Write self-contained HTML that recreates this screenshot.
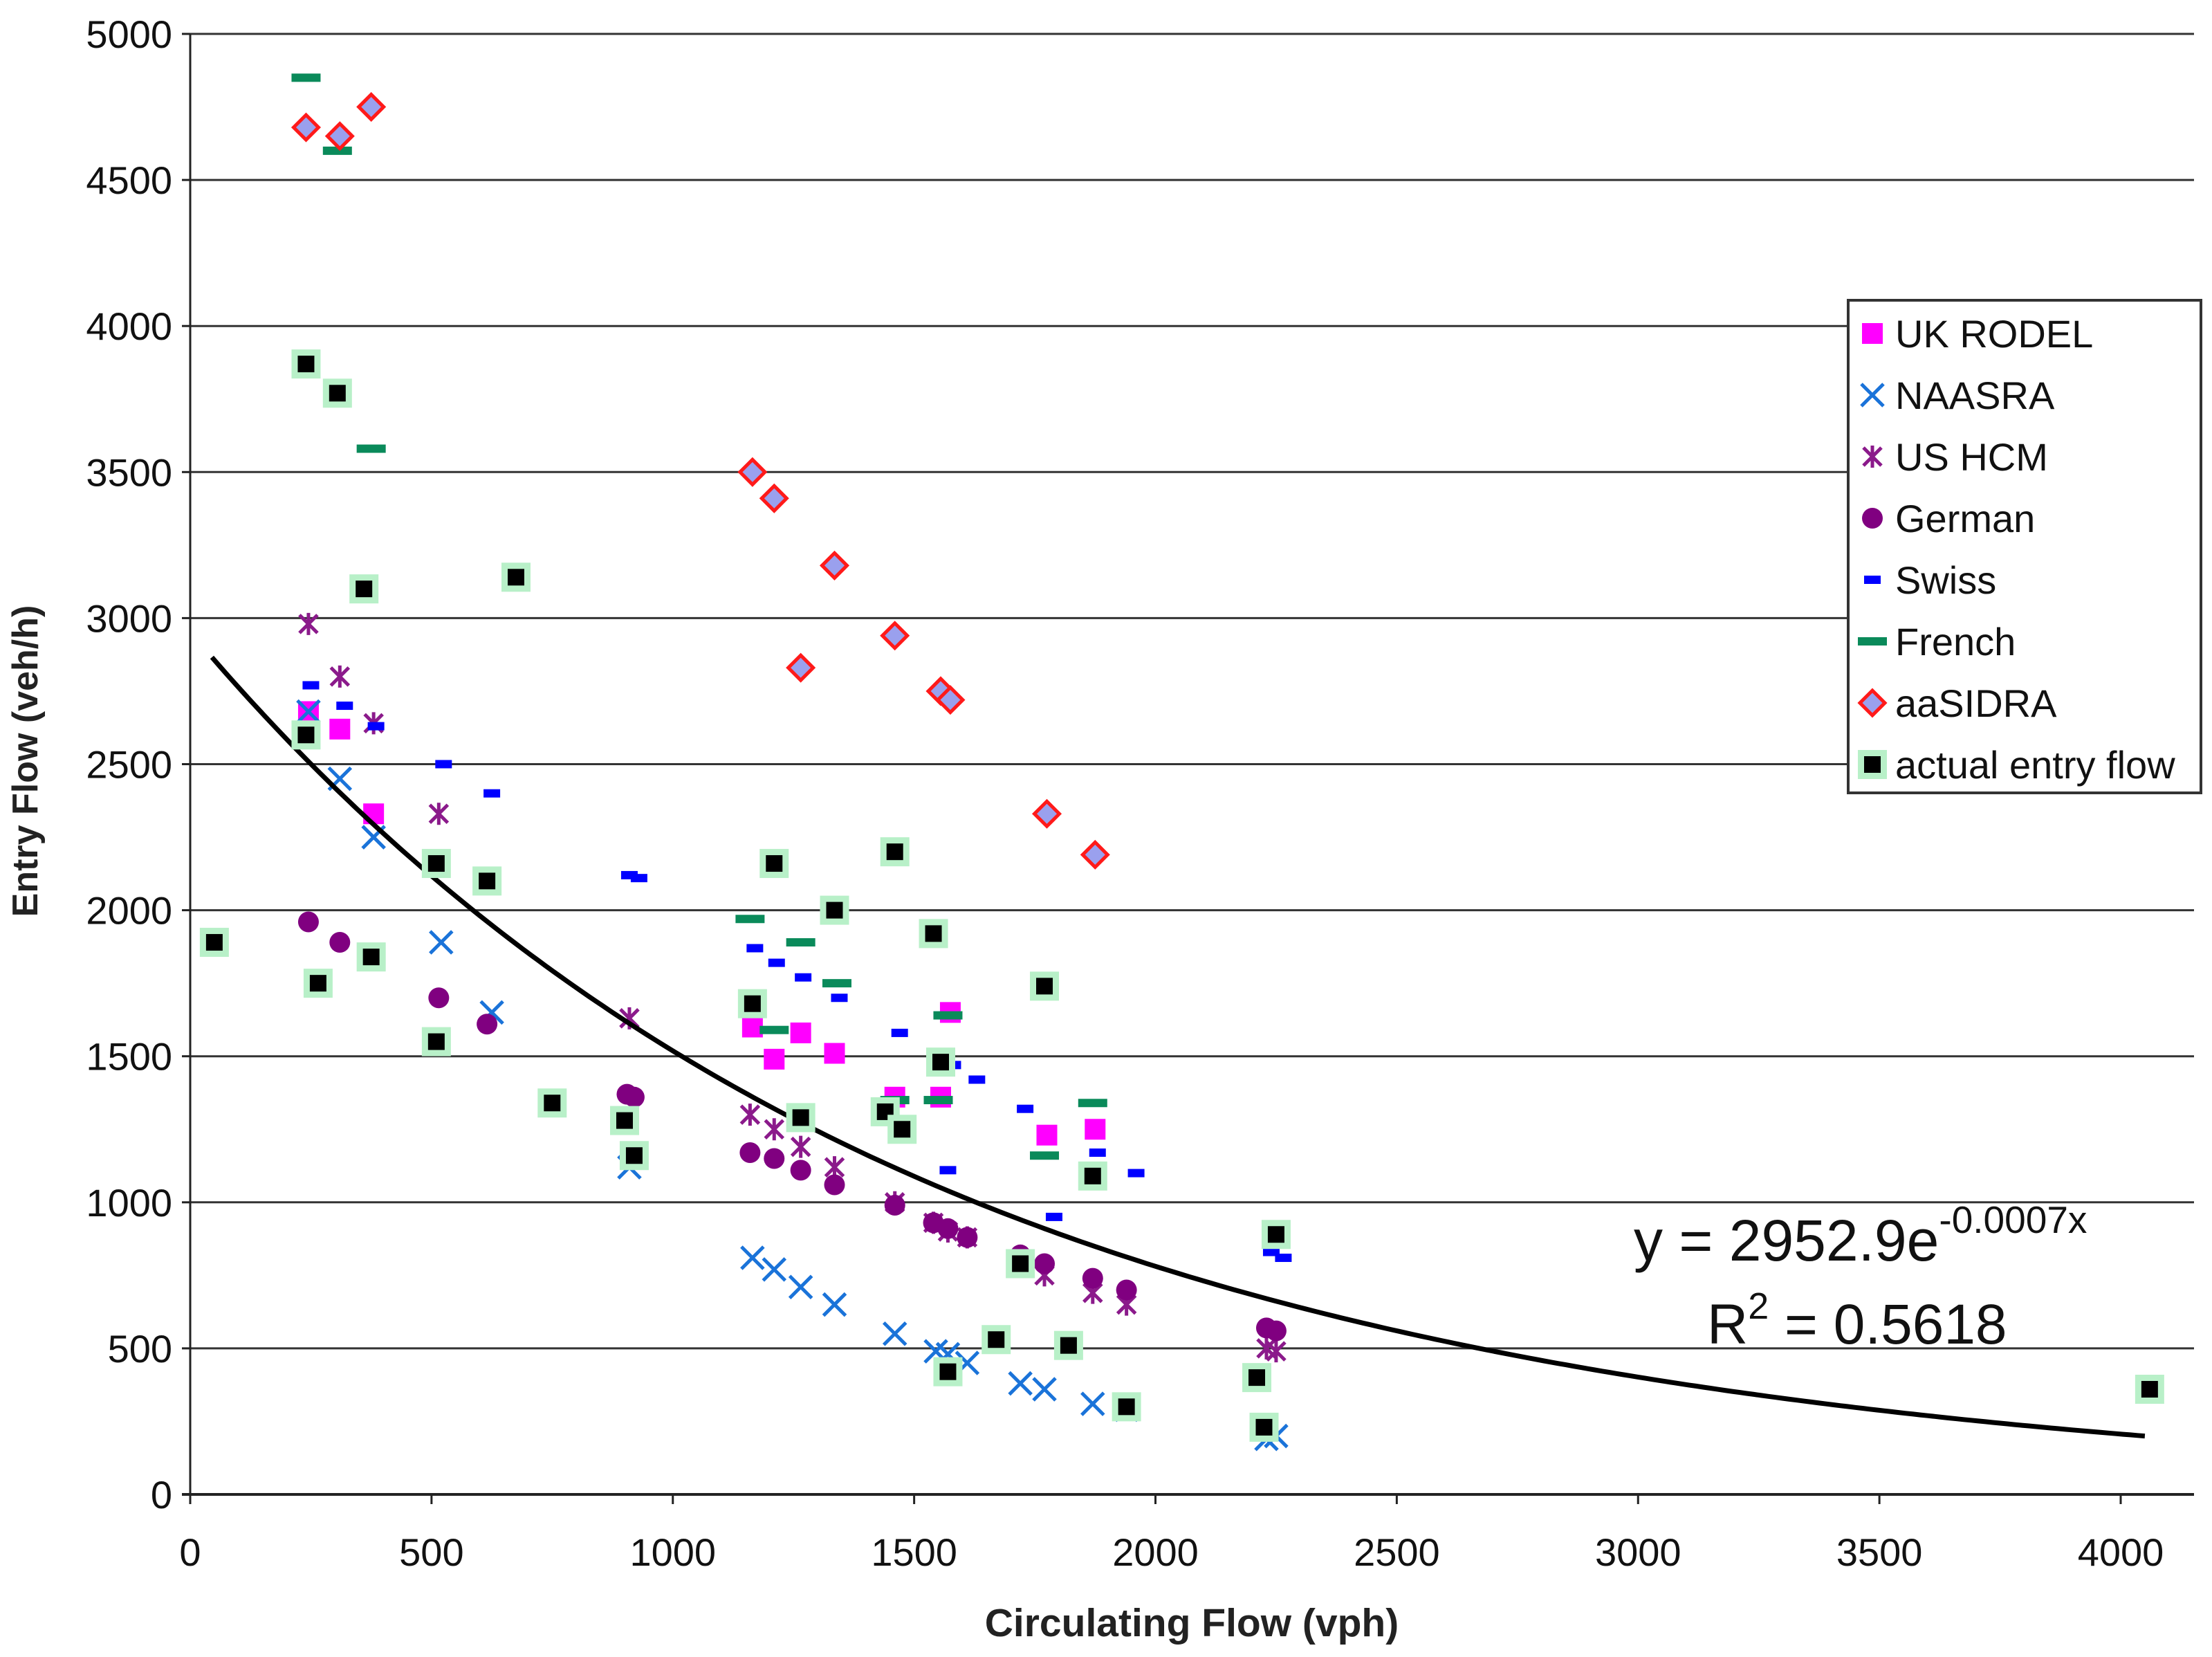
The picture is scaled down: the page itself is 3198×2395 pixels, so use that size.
<!DOCTYPE html>
<html><head><meta charset="utf-8"><style>
html,body{margin:0;padding:0;background:#fff}
svg{display:block;font-family:"Liberation Sans",Arial,sans-serif}
</style></head><body>
<svg id="chart" width="3198" height="2395" viewBox="0 0 3198 2395" xmlns="http://www.w3.org/2000/svg">
<g id="grid"></g>
<g id="axes"></g>
<g id="marks"></g>
<text x="1723" y="2365" font-size="57" font-weight="bold" text-anchor="middle" fill="#222">Circulating Flow (vph)</text>
<text transform="translate(54,1100) rotate(-90)" font-size="52" font-weight="bold" text-anchor="middle" fill="#222">Entry Flow (veh/h)</text>
<text x="2362" y="1822" font-size="84" fill="#111">y = 2952.9e<tspan dy="-40" font-size="55">-0.0007x</tspan></text>
<text x="2468" y="1942" font-size="82" fill="#111">R<tspan dy="-36" font-size="54">2</tspan><tspan dy="36"> = 0.5618</tspan></text>
<g id="legend"></g>
</svg>
<script>
const xTicks=[0,500,1000,1500,2000,2500,3000,3500,4000];
const yTicks=[0,500,1000,1500,2000,2500,3000,3500,4000,4500,5000];
const ukX=[245,310,380,1165,1210,1265,1335,1460,1555,1575,1775,1875];
const ukY=[2680,2620,2330,1600,1490,1580,1510,1360,1360,1650,1230,1250];
const naX=[245,310,380,520,625,910,1165,1210,1265,1335,1460,1545,1570,1610,1720,1770,1870,1940,2230,2250];
const naY=[2680,2450,2250,1890,1650,1120,810,770,710,650,550,490,480,450,380,360,310,290,190,200];
const usX=[245,310,380,515,910,1160,1210,1265,1335,1460,1540,1570,1610,1720,1770,1870,1940,2230,2250];
const usY=[2980,2800,2640,2330,1630,1300,1250,1190,1120,1000,930,900,880,790,750,690,650,500,490];
const deX=[245,310,515,615,905,920,1160,1210,1265,1335,1460,1540,1570,1610,1720,1770,1870,1940,2230,2250];
const deY=[1960,1890,1700,1610,1370,1360,1170,1150,1110,1060,990,930,910,880,820,790,740,700,570,560];
const swX=[250,320,385,525,625,910,930,1170,1215,1270,1345,1470,1580,1630,1730,1570,1790,1880,1960,2240,2265];
const swY=[2770,2700,2630,2500,2400,2120,2110,1870,1820,1770,1700,1580,1470,1420,1320,1110,950,1170,1100,830,810];
const frX=[240,305,375,1160,1210,1265,1340,1460,1550,1570,1770,1870];
const frY=[4850,4600,3580,1970,1590,1890,1750,1350,1350,1640,1160,1340];
const saX=[240,310,375,1165,1210,1335,1265,1460,1555,1575,1775,1875];
const saY=[4680,4650,4750,3500,3410,3180,2830,2940,2750,2720,2330,2190];
const acX=[50,240,305,240,265,360,375,510,510,675,615,750,900,920,1165,1210,1265,1335,1440,1460,1475,1540,1555,1570,1670,1720,1770,1820,1870,1940,2210,2225,2250,4060];
const acY=[1890,3870,3770,2600,1750,3100,1840,2160,1550,3140,2100,1340,1280,1160,1680,2160,1290,2000,1310,2200,1250,1920,1480,420,530,790,1740,510,1090,300,400,230,890,360];
const trendA=2952.9, trendB=-0.000665;
const legendLabels=["UK RODEL","NAASRA","US HCM","German","Swiss","French","aaSIDRA","actual entry flow"];

const NS="http://www.w3.org/2000/svg";
const X0=275,X1=3066,Y0=2160,Y1=49,RIGHT=3172;
const sx=v=>X0+(v/4000)*(X1-X0);
const sy=v=>Y0-(v/5000)*(Y0-Y1);
function mk(tag,attrs,parent){const e=document.createElementNS(NS,tag);for(const k in attrs)e.setAttribute(k,attrs[k]);parent.appendChild(e);return e;}
const grid=document.getElementById('grid'),axes=document.getElementById('axes'),marks=document.getElementById('marks'),leg=document.getElementById('legend');
yTicks.forEach(t=>{
  if(t>0){const l=mk('line',{x1:X0,x2:RIGHT,y1:sy(t),y2:sy(t),stroke:'#333','stroke-width':3},grid);
  
  }
  mk('line',{x1:X0-12,x2:X0,y1:sy(t),y2:sy(t),stroke:'#222','stroke-width':3},axes);
  const tx=mk('text',{x:X0-26,y:sy(t)+20,'font-size':56,'text-anchor':'end',fill:'#111'},axes);tx.textContent=t;
  
  
});
xTicks.forEach(t=>{
  mk('line',{x1:sx(t),x2:sx(t),y1:Y0,y2:Y0+14,stroke:'#222','stroke-width':3},axes);
  const tx=mk('text',{x:sx(t),y:Y0+103,'font-size':56,'text-anchor':'middle',fill:'#111'},axes);tx.textContent=t;
  
  
});
mk('line',{x1:X0,x2:X0,y1:Y1,y2:Y0+14,stroke:'#222','stroke-width':3},axes);
mk('line',{x1:X0-12,x2:RIGHT,y1:Y0,y2:Y0,stroke:'#222','stroke-width':4},axes);

function draw(type,cx,cy,p){
  let g;
  if(type==='uk')g=mk('rect',{x:cx-15,y:cy-15,width:30,height:30,fill:'#ff00ff'},p);
  else if(type==='na'){g=mk('path',{d:`M${cx-16} ${cy-16}L${cx+16} ${cy+16}M${cx-16} ${cy+16}L${cx+16} ${cy-16}`,stroke:'#1a73d9','stroke-width':5,fill:'none'},p);}
  else if(type==='us'){g=mk('path',{d:`M${cx-13} ${cy-13}L${cx+13} ${cy+13}M${cx-13} ${cy+13}L${cx+13} ${cy-13}M${cx} ${cy-16}L${cx} ${cy+16}`,stroke:'#8b1a8b','stroke-width':5,fill:'none'},p);}
  else if(type==='de')g=mk('circle',{cx:cx,cy:cy,r:15,fill:'#800080'},p);
  else if(type==='sw')g=mk('rect',{x:cx-12,y:cy-6,width:24,height:12,fill:'#0000ff'},p);
  else if(type==='fr')g=mk('rect',{x:cx-21,y:cy-6,width:42,height:12,fill:'#0a8a5a'},p);
  else if(type==='sa')g=mk('path',{d:`M${cx} ${cy-18}L${cx+18} ${cy}L${cx} ${cy+18}L${cx-18} ${cy}Z`,fill:'#9aa0ee',stroke:'#ff1a1a','stroke-width':5},p);
  else if(type==='ac'){g=mk('g',{},p);mk('rect',{x:cx-21,y:cy-21,width:42,height:42,fill:'#b8f0c8'},g);mk('rect',{x:cx-12,y:cy-12,width:24,height:24,fill:'#000'},g);}
  return g;
}
const series=[['uk',ukX,ukY],['na',naX,naY],['us',usX,usY],['de',deX,deY],['sw',swX,swY],['fr',frX,frY],['sa',saX,saY],['ac',acX,acY]];
let d='';for(let v=45;v<=4050;v+=15){d+=(d?'L':'M')+sx(v).toFixed(1)+' '+sy(trendA*Math.exp(trendB*v)).toFixed(1);}
series.forEach(([t,xs,ys])=>{if(t==='ac')return;xs.forEach((x,i)=>{const e=draw(t,sx(x),sy(ys[i]),marks);
  
  });});
const tl=mk('path',{d:d,stroke:'#000','stroke-width':7,fill:'none'},marks);


acX.forEach((x,i)=>{const e=draw('ac',sx(x),sy(acY[i]),marks);
  
  });
mk('rect',{x:2672,y:434,width:510,height:712,fill:'#fff',stroke:'#333','stroke-width':4},leg);
legendLabels.forEach((lab,i)=>{
  const cy=482+i*89;
  draw(series[i][0],2707,cy,leg);
  const tx=mk('text',{x:2740,y:cy+20,'font-size':56,fill:'#111'},leg);tx.textContent=lab;
  
  
});
</script>
</body></html>
